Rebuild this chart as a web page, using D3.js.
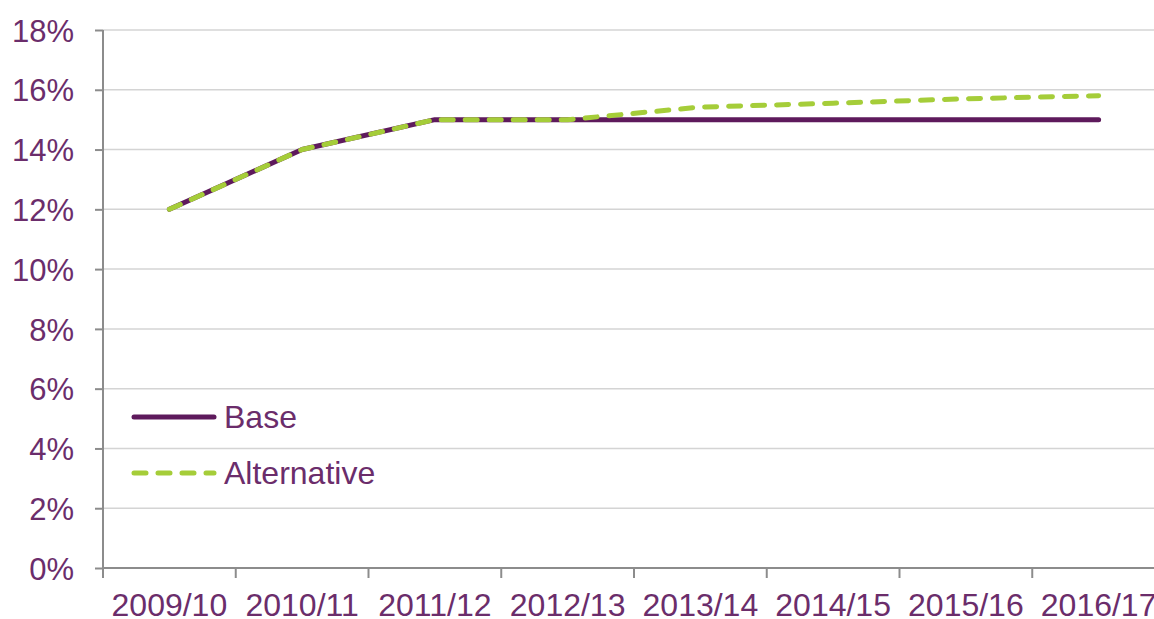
<!DOCTYPE html>
<html>
<head>
<meta charset="utf-8">
<script src="https://cdn.jsdelivr.net/npm/d3@7"></script>
<style>
  html, body { margin: 0; padding: 0; background: #fff; }
  svg { display: block; }
  text { font-family: "Liberation Sans", Arial, sans-serif; fill: #6b2d6b; }
</style>
</head>
<body>
<svg id="chart" width="1154" height="619"></svg>
<script>
// Financial years on the category axis
const years = ["2009/10", "2010/11", "2011/12", "2012/13", "2013/14", "2014/15", "2015/16", "2016/17"];
// Percentage values per scenario
const baseValues = [12, 14, 15, 15, 15, 15, 15, 15];
const alternativeValues = [12, 14, 15, 15, 15.42, 15.55, 15.7, 15.8];
// Y axis ticks (percent)
const yTicks = [0, 2, 4, 6, 8, 10, 12, 14, 16, 18];
const seriesNames = ["Base", "Alternative"];

const W = 1154, H = 619;
const plotLeft = 103, plotTop = 30, plotBottom = 568;
const band = 132.75;

const svg = d3.select("#chart");

const x = d3.scaleBand()
  .domain(years)
  .range([plotLeft, plotLeft + band * years.length])
  .paddingInner(0).paddingOuter(0);

const y = d3.scaleLinear().domain([0, 18]).range([plotBottom, plotTop]);

// Horizontal gridlines
svg.append("g")
  .selectAll("line")
  .data(yTicks.filter(d => d > 0))
  .join("line")
  .attr("x1", plotLeft).attr("x2", W)
  .attr("y1", d => y(d)).attr("y2", d => y(d))
  .attr("stroke", "#d4d4d4").attr("stroke-width", 1.5);

// Y axis
const yAxis = svg.append("g")
  .attr("transform", `translate(${plotLeft},0)`)
  .call(d3.axisLeft(y).tickValues(yTicks).tickFormat(d => d + "%").tickSize(8).tickPadding(21));
yAxis.select(".domain").attr("stroke", "#8c8c8c").attr("stroke-width", 2)
  .attr("d", `M0,${plotTop}V${plotBottom + 9}`);
yAxis.selectAll(".tick line").attr("stroke", "#8c8c8c").attr("stroke-width", 2);
yAxis.selectAll(".tick text")
  .style("font-family", '"Liberation Sans", Arial, sans-serif')
  .style("font-size", "31px").attr("fill", "#6b2d6b").attr("dy", "0.36em");

// X axis: ticks sit on the band boundaries, labels centred in each band
const xAxisG = svg.append("g").attr("transform", `translate(0,${plotBottom})`);
xAxisG.append("line")
  .attr("x1", plotLeft).attr("x2", W).attr("y1", 0).attr("y2", 0)
  .attr("stroke", "#8c8c8c").attr("stroke-width", 2);
xAxisG.selectAll("line.tick")
  .data(years)
  .join("line").attr("class", "tick")
  .attr("x1", d => x(d)).attr("x2", d => x(d))
  .attr("y1", 0).attr("y2", 10)
  .attr("stroke", "#8c8c8c").attr("stroke-width", 2);
xAxisG.selectAll("text")
  .data(years)
  .join("text")
  .attr("x", d => x(d) + x.bandwidth() / 2)
  .attr("y", 48)
  .attr("text-anchor", "middle")
  .style("font-size", "32px")
  .text(d => d);

const line = d3.line()
  .x((d, i) => x(years[i]) + x.bandwidth() / 2)
  .y(d => y(d));

// Base scenario (solid purple)
svg.append("path")
  .datum(baseValues)
  .attr("d", line)
  .attr("fill", "none")
  .attr("stroke", "#5e1a5c")
  .attr("stroke-width", 5)
  .attr("stroke-linecap", "round")
  .attr("stroke-linejoin", "round");

// Alternative scenario (dashed green)
svg.append("path")
  .datum(alternativeValues)
  .attr("d", line)
  .attr("fill", "none")
  .attr("stroke", "#a5cd39")
  .attr("stroke-width", 5)
  .attr("stroke-dasharray", "12,12")
  .attr("stroke-linecap", "round")
  .attr("stroke-linejoin", "round");

// Legend
const legend = svg.append("g");
const legendStyles = [
  { stroke: "#5e1a5c", dash: null },
  { stroke: "#a5cd39", dash: "12,12" }
];
seriesNames.forEach((name, i) => {
  const ly = 417 + i * 56;
  legend.append("line")
    .attr("x1", 134).attr("x2", 214)
    .attr("y1", ly).attr("y2", ly)
    .attr("stroke", legendStyles[i].stroke)
    .attr("stroke-width", 5)
    .attr("stroke-linecap", "round")
    .attr("stroke-dasharray", legendStyles[i].dash);
  legend.append("text")
    .attr("x", 224).attr("y", ly)
    .attr("dy", "0.35em")
    .style("font-size", "32px")
    .text(name);
});
</script>
</body>
</html>
